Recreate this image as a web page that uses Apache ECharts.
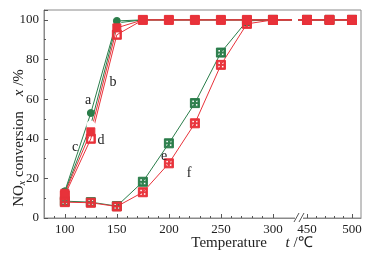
<!DOCTYPE html>
<html>
<head>
<meta charset="utf-8">
<script src="https://cdn.jsdelivr.net/npm/echarts@6/dist/echarts.min.js"></script>
<style>
  html, body { margin: 0; padding: 0; background: #fff; }
  #chart { width: 383px; height: 259px; }
</style>
</head>
<body>
<div id="chart"></div>
<script>
// temperatures (℃)
var temps = [100, 125, 150, 175, 200, 225, 250, 275, 300, 450, 475, 500]
// NOx conversion (%)
var seriesA = [13.5, 53, 99.5, 100, 100, 100, 100, 100, 100, 100, 100, 100]
var seriesC = [13, 47, 98.5, 100, 100, 100, 100, 100, 100, 100, 100, 100]
var seriesB = [12.5, 43.5, 96, 100, 100, 100, 100, 100, 100, 100, 100, 100]
var seriesD = [11.5, 40, 92.5, 100, 100, 100, 100, 100, 100, 100, 100, 100]
var seriesE = [8.5, 8, 6, 18.3, 37.7, 58, 83.5, 99.5, 100, 100, 100, 100]
var seriesF = [8, 7.7, 5.8, 13, 27.6, 47.8, 77.3, 98, 100, 100, 100, 100]
var xTickLabels = [100, 150, 200, 250, 300, 450, 500]
var xMinorTicks = [90, 110, 120, 130, 140, 160, 170, 180, 190, 210, 220, 230, 240, 260, 270, 280, 290, 460, 470, 480, 490]

// broken x axis: values above the break are shifted and squeezed
var K = 0.865
function tx (v) { return v <= 300 ? v : 332.7 + (v - 450) * K }
function untx (p) { return p <= 300 ? p : Math.round(450 + (p - 332.7) / K) }

function pairs (vals) {
  return temps.map(function (t, i) { return [tx(t), vals[i]] })
}

var green = '#2a7d4a'
var red = '#e8323a'
var serif = 'Liberation Serif'
var gridSym = 'path://M0,0H10V10H0Z M1.6,1.6V4.5H4.5V1.6Z M5.5,1.6V4.5H8.4V1.6Z M1.6,5.5V8.4H4.5V5.5Z M5.5,5.5V8.4H8.4V5.5Z'

function line (name, vals, color, symbol, size, fill) {
  return {
    name: name,
    type: 'line',
    data: pairs(vals),
    symbol: symbol,
    symbolSize: size,
    showSymbol: true,
    lineStyle: { color: color, width: 1 },
    itemStyle: { color: fill || color, borderColor: color, borderWidth: 1 },
    emphasis: { disabled: true },
    z: 3
  }
}

function letter (t, x, y) {
  return { type: 'text', x: x, y: y, z: 20, style: { text: t, font: '14px "Liberation Serif"', fill: '#222', align: 'center', verticalAlign: 'middle' } }
}

var chart = echarts.init(document.getElementById('chart'))
chart.setOption({
  animation: false,
  grid: { left: 44, right: 22, top: 10, bottom: 41, show: true, borderColor: '#8a8a8a', borderWidth: 1 },
  xAxis: [{
    type: 'value',
    min: 80,
    max: 384.6,
    axisLine: { show: true, lineStyle: { color: '#8a8a8a' } },
    axisTick: { inside: true, length: 4, lineStyle: { color: '#555' }, customValues: xTickLabels.map(tx) },
    axisLabel: {
      customValues: xTickLabels.map(tx),
      formatter: function (v) { return untx(v) },
      color: '#222', fontFamily: serif, fontSize: 13, margin: 5
    },
    splitLine: { show: false }
  }, {
    type: 'value',
    min: 80,
    max: 384.6,
    position: 'bottom',
    axisLine: { show: false },
    axisTick: { inside: true, length: 2, lineStyle: { color: '#555' }, customValues: xMinorTicks.map(tx) },
    axisLabel: { show: false },
    splitLine: { show: false }
  }],
  yAxis: {
    type: 'value',
    min: 0,
    max: 105,
    interval: 20,
    axisLine: { show: true, lineStyle: { color: '#8a8a8a' } },
    axisTick: { inside: true, length: 4, lineStyle: { color: '#555' } },
    minorTick: { show: true, splitNumber: 2, length: 2, lineStyle: { color: '#555' } },
    axisLabel: { showMaxLabel: false, color: '#222', fontFamily: serif, fontSize: 13, margin: 5 },
    splitLine: { show: false }
  },
  series: [
    line('e', seriesE, green, gridSym, 9),
    line('c', seriesC, green, 'emptyCircle', 7, '#fff'),
    line('a', seriesA, green, 'circle', 7),
    line('f', seriesF, red, gridSym, 9),
    line('d', seriesD, red, 'path://M0,0H10V10H0Z M1.5,1.5V8.5H8.5V1.5Z', 9),
    line('b', seriesB, red, 'rect', 8)
  ],
  graphic: [
    { type: 'text', x: 19, y: 138, rotation: Math.PI / 2,
      style: {
        text: '{n|NO}{s|x}{n| conversion    }{i|x}{n| /%}',
        align: 'center', verticalAlign: 'middle',
        rich: {
          n: { fontFamily: serif, fontSize: 15, fill: '#222' },
          s: { fontFamily: serif, fontSize: 10, fontStyle: 'italic', fill: '#222', verticalAlign: 'bottom', padding: [7, 0, 0, 0] },
          i: { fontFamily: serif, fontSize: 15, fontStyle: 'italic', fill: '#222' }
        }
      }
    },
    { type: 'text', x: 252, y: 243,
      style: {
        text: '{n|Temperature     }{i|t}{n| /℃}',
        align: 'center', verticalAlign: 'middle',
        rich: {
          n: { fontFamily: serif, fontSize: 15, fill: '#222' },
          i: { fontFamily: serif, fontSize: 15, fontStyle: 'italic', fill: '#222' }
        }
      }
    },
    { type: 'rect', shape: { x: 295, y: 216, width: 8, height: 4 }, style: { fill: '#fff' }, z: 10 },
    { type: 'rect', shape: { x: 292, y: 18, width: 6, height: 4 }, style: { fill: '#fff' }, z: 10 },
    { type: 'line', shape: { x1: 294, y1: 222, x2: 299, y2: 213 }, style: { stroke: '#555', lineWidth: 1 }, z: 11 },
    { type: 'line', shape: { x1: 299, y1: 222, x2: 304, y2: 213 }, style: { stroke: '#555', lineWidth: 1 }, z: 11 },
    letter('a', 88, 100),
    letter('b', 113, 82),
    letter('c', 75, 147),
    letter('d', 101, 140),
    letter('e', 164, 156),
    letter('f', 189, 173)
  ]
})
</script>
</body>
</html>
